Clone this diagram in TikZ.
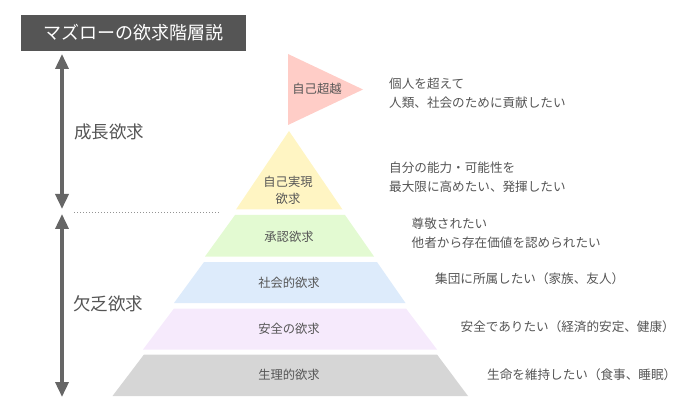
\documentclass[tikz,border=0pt]{standalone}
\usepackage{fontspec}
\setmainfont{Noto Sans CJK JP}
\usetikzlibrary{arrows.meta}
\definecolor{titlebg}{HTML}{555555}
\definecolor{txt}{HTML}{555555}
\definecolor{arrowc}{HTML}{666666}
\definecolor{cred}{HTML}{FFCDC7}
\definecolor{cyellow}{HTML}{FFF5C3}
\definecolor{cgreen}{HTML}{E3FAD2}
\definecolor{cblue}{HTML}{DDEBFB}
\definecolor{cpink}{HTML}{F6EAFC}
\definecolor{cgray}{HTML}{D6D6D6}
\begin{document}
\begin{tikzpicture}[x=1pt,y=-1pt,
  lvl/.style={font=\fontsize{12.3}{17.5}\selectfont, text=txt, inner sep=0pt, align=center},
  desc/.style={font=\fontsize{12.6}{19}\selectfont, text=txt, inner sep=0pt, align=left, anchor=west},
  side/.style={font=\fontsize{17.5}{20}\selectfont, text=txt, inner sep=0pt, anchor=west},
  bigarrow/.style={draw=arrowc, line width=3.5pt, {Triangle[width=13pt,length=15pt]}-{Triangle[width=13pt,length=15pt]}}
]
\useasboundingbox (0,0) rectangle (692,411);
% title
\node[fill=titlebg, text=white, minimum width=225pt, minimum height=36pt, inner sep=0pt,
      font=\fontsize{18}{20}\selectfont] (title) at (133.5,33) {マズローの欲求階層説};
% arrows
\coordinate (a1t) at (62,54);
\coordinate (a1b) at (62,209);
\coordinate (a2t) at (62,214);
\coordinate (a2b) at (62,397);
\draw[bigarrow] (a1t) -- (a1b);
\draw[bigarrow] (a2t) -- (a2b);
% dotted separator
\coordinate (d1) at (74,212.5);
\coordinate (d2) at (220,212.5);
\draw[draw=arrowc!70, line width=0.8pt, dash pattern=on 1.2pt off 1.8pt] (d1) -- (d2);
% side labels
\node[side] (grow) at (74,132) {成長欲求};
\node[side] (lack) at (73,304) {欠乏欲求};
% flag
\fill[cred] (288,54) -- (363,89.5) -- (288,125) -- cycle;
% pyramid
\fill[cyellow] (289,131) -- (342.5,209.5) -- (236,209.5) -- cycle;
\fill[cgreen] (235,215) -- (345,215) -- (374,256.5) -- (205,256.5) -- cycle;
\fill[cblue] (204,262) -- (377,262) -- (405.5,303) -- (174,303) -- cycle;
\fill[cpink] (174,308.5) -- (406,308.5) -- (437,349.5) -- (143,349.5) -- cycle;
\fill[cgray] (144,354.5) -- (437,354.5) -- (468,396) -- (112.5,396) -- cycle;
% level labels
\node[lvl] (l6) at (317,89) {自己超越};
\node[lvl] (l5) at (288,190.5) {自己実現\\欲求};
\node[lvl] (l4) at (289,236.5) {承認欲求};
\node[lvl] (l3) at (289,282.5) {社会的欲求};
\node[lvl] (l2) at (289,329) {安全の欲求};
\node[lvl] (l1) at (289,374.5) {生理的欲求};
% descriptions
\node[desc] (t6) at (389,93) {個人を超えて\\人類、社会のために貢献したい};
\node[desc] (t5) at (389,177) {自分の能力・可能性を\\最大限に高めたい、発揮したい};
\node[desc] (t4) at (411.5,233.5) {尊敬されたい\\他者から存在価値を認められたい};
\node[desc] (t3) at (435,278.5) {集団に所属したい（家族、友人）};
\node[desc] (t2) at (460.5,327) {安全でありたい（経済的安定、健康）};
\node[desc] (t1) at (487,374.5) {生命を維持したい（食事、睡眠）};
\end{tikzpicture}
\end{document}
